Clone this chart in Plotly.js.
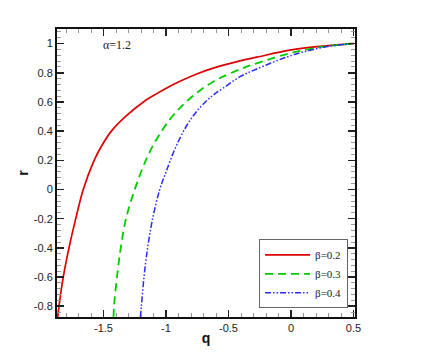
<!DOCTYPE html>
<html>
<head>
<meta charset="utf-8">
<script src="https://cdn.plot.ly/plotly-3.0.1.min.js"></script>
<style>html,body{margin:0;padding:0;background:#fff;}#chart{width:436px;height:357px;}</style>
</head>
<body>
<div id="chart"></div>
<script>
// beta = 0.2
const q02 = [-1.866, -1.856, -1.822, -1.776, -1.722, -1.662, -1.575, -1.512, -1.437, -1.312, -1.18, -1.074, -0.968, -0.888, -0.754, -0.622, -0.408, -0.274, -0.008, 0.258, 0.5];
const r02 = [-0.875, -0.8, -0.6, -0.4, -0.2, 0.0, 0.2, 0.303, 0.4, 0.509, 0.6, 0.657, 0.708, 0.742, 0.792, 0.832, 0.882, 0.907, 0.955, 0.983, 1.0];
// beta = 0.3
const q03 = [-1.42, -1.416, -1.392, -1.362, -1.32, -1.25, -1.15, -1.048, -0.942, -0.808, -0.622, -0.408, -0.274, -0.008, 0.258, 0.5];
const r03 = [-0.875, -0.8, -0.6, -0.4, -0.2, 0.0, 0.222, 0.383, 0.509, 0.624, 0.739, 0.824, 0.865, 0.934, 0.979, 1.0];
// beta = 0.4
const q04 = [-1.205, -1.197, -1.176, -1.147, -1.107, -1.05, -1.0, -0.93, -0.84, -0.76, -0.67, -0.622, -0.542, -0.408, -0.274, -0.008, 0.258, 0.5];
const r04 = [-0.875, -0.8, -0.6, -0.4, -0.2, 0.0, 0.12, 0.275, 0.43, 0.53, 0.612, 0.647, 0.695, 0.773, 0.826, 0.915, 0.975, 1.0];

const seriesNames = ['β=0.2', 'β=0.3', 'β=0.4'];
const xTickVals = [-1.5, -1, -0.5, 0, 0.5];
const xTickText = ['-1.5', '-1', '-0.5', '0', '0.5'];
const yTickVals = [-0.8, -0.6, -0.4, -0.2, 0, 0.2, 0.4, 0.6, 0.8, 1];
const yTickText = ['-0.8', '-0.6', '-0.4', '-0.2', '0', '0.2', '0.4', '0.6', '0.8', '1'];
const annotationText = 'α=1.2';

const traces = [
  {x: q02, y: r02, name: seriesNames[0], mode: 'lines', line: {color: '#dd0000', width: 1.7, shape: 'spline', smoothing: 1}},
  {x: q03, y: r03, name: seriesNames[1], mode: 'lines', line: {color: '#00cc00', width: 1.8, dash: '8px,5px', shape: 'spline', smoothing: 1}},
  {x: q04, y: r04, name: seriesNames[2], mode: 'lines', line: {color: '#2a2aff', width: 1.5, dash: '6px,2px,1.5px,2px,1.5px,2px', shape: 'spline', smoothing: 1}}
];

const tickFont = {family: 'Liberation Sans, Arial, sans-serif', size: 11, color: '#222'};
const axisCommon = {
  showgrid: false, zeroline: false, showline: true, linecolor: '#111', linewidth: 2,
  mirror: 'ticks', ticks: 'inside', ticklen: 7, tickwidth: 1.5, tickcolor: '#222',
  tickfont: tickFont, tickmode: 'array'
};

const layout = {
  width: 436, height: 357,
  margin: {l: 57, r: 81, t: 29, b: 40},
  paper_bgcolor: '#fff', plot_bgcolor: '#fff',
  showlegend: true,
  xaxis: Object.assign({}, axisCommon, {
    range: [-1.872, 0.512], tickvals: xTickVals, ticktext: xTickText,
    minor: {tickmode: 'linear', tick0: 0, dtick: 0.1, ticklen: 4, tickwidth: 1, tickcolor: '#999', ticks: 'inside'},
    title: {text: '<b>q</b>', font: {family: 'Liberation Sans, Arial, sans-serif', size: 14, color: '#111'}, standoff: 0}
  }),
  yaxis: Object.assign({}, axisCommon, {
    range: [-0.874, 1.1], tickvals: yTickVals, ticktext: yTickText,
    minor: {tickmode: 'linear', tick0: 0, dtick: 0.04, ticklen: 4, tickwidth: 1, tickcolor: '#999', ticks: 'inside'},
    title: {text: '<b>r</b>', font: {family: 'Liberation Sans, Arial, sans-serif', size: 14, color: '#111'}, standoff: 2}
  }),
  legend: {
    x: 0.678, y: 0.03, xanchor: 'left', yanchor: 'bottom',
    bgcolor: '#fff', bordercolor: '#666', borderwidth: 1,
    font: {family: 'Liberation Serif, Times New Roman, serif', size: 11, color: '#222'},
    traceorder: 'normal', itemwidth: 45
  },
  annotations: [{
    text: annotationText, xref: 'paper', yref: 'paper', x: 0.147, y: 0.945,
    xanchor: 'left', yanchor: 'middle', showarrow: false,
    font: {family: 'Liberation Serif, Times New Roman, serif', size: 12, color: '#222'}
  }]
};

Plotly.newPlot('chart', traces, layout, {displayModeBar: false, staticPlot: true});
</script>
</body>
</html>
